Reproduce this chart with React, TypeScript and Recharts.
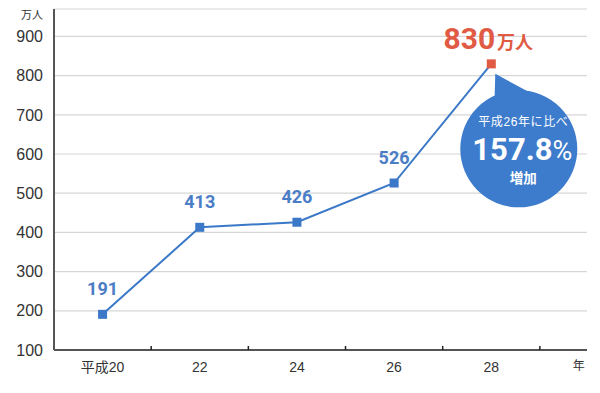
import { LineChart, Line, XAxis, YAxis, CartesianGrid, LabelList } from 'recharts';

const YEARS = [20, 22, 24, 26, 28];
const VISITORS = [191, 413, 426, 526, 830];
const Y_TICKS = [100, 200, 300, 400, 500, 600, 700, 800, 900];
const YEAR_LABELS = ['平成20', '22', '24', '26', '28'];
const UNIT = '万人';
const X_UNIT = '年';
const COMPARE_TEXT = '平成26年に比べ';
const GROWTH_RATE = '157.8';
const GROWTH_WORD = '増加';

const BLUE = '#3b78c8';
const LABEL_BLUE = '#4a7dc6';
const RED = '#e05a44';
const BUBBLE = '#3d7bcc';
const FONT = "'Liberation Sans', 'Noto Sans CJK JP', sans-serif";
const NUM_FONT = "Roboto, 'Noto Sans CJK JP', sans-serif";

const data = YEARS.map((year, i) => ({ year, value: VISITORS[i] }));
const UNIT_TICK = 29.8;
const xTicks = [...YEARS, ...YEARS.map(y => y + 1), UNIT_TICK].sort((a, b) => a - b);

const XTick = (props: any) => {
  const { x, y, payload } = props;
  const v = payload.value;
  const idx = YEARS.indexOf(v);
  if (idx >= 0) {
    return (
      <text x={x} y={y + 22} textAnchor="middle" fontSize={14} fill="#333" fontFamily={FONT}>
        {YEAR_LABELS[idx]}
      </text>
    );
  }
  if (v === UNIT_TICK) {
    return (
      <text x={x} y={y + 20} textAnchor="middle" fontSize={12} fill="#333" fontFamily={FONT}>
        {X_UNIT}
      </text>
    );
  }
  return <line x1={x} x2={x} y1={y} y2={y - 4} stroke="#222" strokeWidth={1.5} />;
};

const renderDot = (props: any) => {
  const { cx, cy, index } = props;
  const last = index === VISITORS.length - 1;
  return (
    <rect key={`dot-${index}`} x={cx - 4.5} y={cy - 4.5} width={9} height={9} fill={last ? RED : BLUE} />
  );
};

const renderLabel = (props: any) => {
  const { x, y, value, index } = props;
  if (index !== VISITORS.length - 1) {
    return (
      <text x={x} y={y - 19} textAnchor="middle" fontSize={18} fontWeight={700} fill={LABEL_BLUE} fontFamily={NUM_FONT}>
        {value}
      </text>
    );
  }
  // last point: big red value + callout bubble
  return (
    <g>
      <text x={x - 3} y={y - 14.5} textAnchor="middle" fill={RED} fontFamily={NUM_FONT} fontWeight={700}>
        <tspan fontSize={30}>{value}</tspan>
        <tspan fontSize={18} dx={2}>{UNIT}</tspan>
      </text>
      <path d={`M${x + 4},${y + 10} L${x + 3},${y + 46} L${x + 39},${y + 29} Z`} fill={BUBBLE} />
      <circle cx={x + 27.5} cy={y + 85} r={58.5} fill={BUBBLE} />
      <text x={x + 32} y={y + 62.5} textAnchor="middle" fontSize={12} letterSpacing={0.6} fill="#fff" fontFamily={FONT}>
        {COMPARE_TEXT}
      </text>
      <text x={x + 31} y={y + 96.5} textAnchor="middle" fill="#fff" fontFamily={NUM_FONT}>
        <tspan fontSize={31} fontWeight={700}>{GROWTH_RATE}</tspan>
        <tspan fontSize={27}>%</tspan>
      </text>
      <text x={x + 32} y={y + 119} textAnchor="middle" fontSize={13.5} fontWeight={700} fill="#fff" fontFamily={FONT}>
        {GROWTH_WORD}
      </text>
    </g>
  );
};

export default function App() {
  return (
    <div style={{ position: 'absolute', left: 0, top: 0, background: '#fff' }}>
      <LineChart width={600} height={393} data={data} margin={{ top: 9, right: 13, bottom: 13, left: 0 }}>
        <CartesianGrid horizontal vertical={false} stroke="#d6d6d6" strokeWidth={1.2} />
        <XAxis
          dataKey="year"
          type="number"
          domain={[19, 29.97]}
          ticks={xTicks}
          interval={0}
          height={30}
          tickSize={0}
          tickMargin={0}
          tickLine={false}
          tick={<XTick />}
          axisLine={{ stroke: '#222', strokeWidth: 1.5 }}
          allowDataOverflow
        />
        <YAxis
          domain={[100, 970]}
          ticks={Y_TICKS}
          interval={0}
          width={54}
          tickSize={0}
          tickMargin={11}
          tickLine={false}
          axisLine={{ stroke: '#555', strokeWidth: 2 }}
          tick={{ fontSize: 16, fill: '#333', fontFamily: FONT }}
          allowDataOverflow
          label={{
            content: (p: any) => (
              <text x={p.viewBox.x + p.viewBox.width - 11} y={p.viewBox.y + 10} textAnchor="end" fontSize={11} fill="#333" fontFamily={FONT}>
                {UNIT}
              </text>
            ),
          }}
        />
        <Line
          dataKey="value"
          stroke={BLUE}
          strokeWidth={2}
          dot={renderDot}
          activeDot={false}
          isAnimationActive={false}
        >
          <LabelList dataKey="value" content={renderLabel} />
        </Line>
      </LineChart>
    </div>
  );
}
